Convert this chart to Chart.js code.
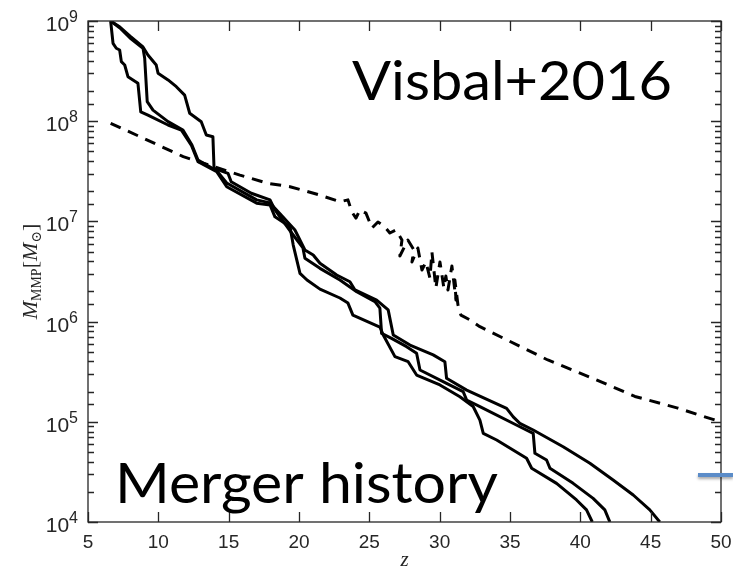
<!DOCTYPE html>
<html>
<head>
<meta charset="utf-8">
<script src="https://cdn.jsdelivr.net/npm/chart.js@4.4.1/dist/chart.umd.min.js"></script>
<style>
  html, body { margin: 0; padding: 0; background: #fff; }
  #wrap { width: 733px; height: 576px; }
</style>
</head>
<body>
<div id="wrap"><canvas id="mmp"></canvas></div>
<script>
// most massive progenitor mass vs redshift, three merger trees
const zTreeA = [6.61, 6.78, 7.01, 7.25, 7.37, 7.61, 7.84, 8.55, 8.75, 9.26, 10.69, 11.63, 12.34, 12.82, 14.15, 14.86, 16.99, 17.94, 18.29, 19.36, 19.59, 20.07, 20.57, 21.49, 22.91, 23.48, 23.83, 25.75, 25.99, 26.82, 27.76, 28.36, 30.02, 31.44, 32.38, 32.86, 33.10, 34.05, 36.18, 36.54, 38.31, 39.73, 40.44, 40.85];
const massTreeA = [1e9, 5.98e8, 5.35e8, 5.14e8, 3.93e8, 3.64e8, 2.78e8, 2.39e8, 1.24e8, 1.15e8, 9.16e7, 8.17e7, 5.78e7, 3.94e7, 3.13e7, 2.22e7, 1.52e7, 1.46e7, 1.11e7, 8.85e6, 5.81e6, 3.03e6, 2.60e6, 2.11e6, 1.72e6, 1.53e6, 1.16e6, 8.83e5, 7.35e5, 4.47e5, 3.98e5, 2.93e5, 2.33e5, 1.78e5, 1.42e5, 1.04e5, 7.67e4, 6.58e4, 4.33e4, 3.44e4, 2.43e4, 1.66e4, 1.32e4, 1.0e4];

const zTreeB = [6.61, 7.27, 7.99, 8.91, 9.03, 9.21, 9.62, 10.69, 11.75, 12.39, 12.82, 14.15, 14.86, 16.99, 17.94, 18.65, 19.71, 20.42, 21.01, 21.49, 22.68, 23.62, 23.98, 25.52, 26.34, 26.70, 27.89, 29.54, 30.37, 30.49, 31.92, 34.76, 35.23, 35.70, 36.65, 38.78, 40.68, 42.33, 43.76, 44.94, 45.65];
const massTreeB = [1e9, 8.51e8, 6.76e8, 5.35e8, 4.25e8, 1.57e8, 1.29e8, 9.89e7, 8.17e7, 5.78e7, 4.10e7, 3.2e7, 2.42e7, 1.64e7, 1.53e7, 1.19e7, 8.20e6, 5.19e6, 4.62e6, 3.82e6, 2.92e6, 2.50e6, 2.07e6, 1.64e6, 1.31e6, 7.35e5, 5.83e5, 4.65e5, 3.98e5, 2.72e5, 2.07e5, 1.36e5, 1.12e5, 9.66e4, 8.28e4, 5.64e4, 3.85e4, 2.62e4, 1.86e4, 1.32e4, 1.0e4];

const zTreeC = [6.61, 7.27, 7.99, 8.91, 9.26, 9.85, 9.98, 10.69, 11.28, 11.87, 12.23, 13.05, 13.41, 13.88, 13.96, 14.95, 15.18, 16.61, 17.94, 18.29, 19.48, 20.28, 20.42, 21.49, 22.91, 24.10, 25.40, 25.75, 25.87, 26.58, 27.65, 28.36, 28.60, 30.49, 31.67, 31.92, 32.86, 35.70, 36.65, 36.77, 37.60, 37.84, 39.49, 40.91, 41.74, 42.10];
const massTreeC = [1e9, 8.71e8, 7.08e8, 5.51e8, 4.58e8, 3.64e8, 3.01e8, 2.58e8, 2.21e8, 1.82e8, 1.20e8, 9.89e7, 7.28e7, 7.00e7, 3.39e7, 3.02e7, 2.49e7, 1.91e7, 1.64e7, 1.30e7, 7.66e6, 5.43e6, 4.29e6, 3.40e6, 2.60e6, 1.99e6, 1.58e6, 1.36e6, 7.64e5, 6.81e5, 5.62e5, 4.83e5, 3.29e5, 2.42e5, 2.00e5, 1.65e5, 1.42e5, 8.93e4, 7.67e4, 4.85e4, 4.16e4, 3.44e4, 2.43e4, 1.72e4, 1.32e4, 1.0e4];

// dashed reference track (noisy stretch around z ~ 23-31)
const zDashed = [6.61, 8.70, 11.77, 15.80, 17.79, 19.36, 21.49, 22.91, 23.48, 23.76, 24.05, 24.33, 24.76, 25.19, 25.61, 26.04, 26.46, 26.89, 27.32, 27.17, 27.74, 28.17, 28.03, 28.45, 28.74, 29.02, 29.31, 29.45, 29.73, 30.02, 30.30, 30.44, 30.59, 30.87, 31.16, 31.08, 31.30, 31.51, 32.15, 32.86, 37.69, 40.82, 43.88, 46.93, 48.85, 50.0];
const massDashed = [9.53e7, 7.00e7, 4.43e7, 2.90e7, 2.40e7, 2.22e7, 1.83e7, 1.57e7, 1.64e7, 1.24e7, 1.08e7, 1.30e7, 1.21e7, 8.59e6, 9.86e6, 9.00e6, 7.66e6, 8.20e6, 6.52e6, 4.52e6, 6.52e6, 5.19e6, 3.94e6, 5.43e6, 3.27e6, 3.94e6, 2.72e6, 4.95e6, 2.16e6, 3.94e6, 2.16e6, 2.85e6, 2.07e6, 3.59e6, 1.64e6, 2.60e6, 1.47e6, 1.16e6, 1.04e6, 8.89e5, 4.14e5, 2.74e5, 1.79e5, 1.37e5, 1.12e5, 1.0e5];

const xTicks = [5, 10, 15, 20, 25, 30, 35, 40, 45, 50];
const yDecades = [1e4, 1e5, 1e6, 1e7, 1e8, 1e9];

const AXIS_COLOR = '#262626';

function pairs(zs, ms) {
    return zs.map((z, i) => ({ x: z, y: ms[i] }));
}

function track(zs, ms, dashed) {
    return {
        data: pairs(zs, ms),
        borderColor: '#000',
        borderWidth: 3,
        borderDash: dashed ? [11, 8] : [],
        borderJoinStyle: 'round',
        pointRadius: 0,
        tension: 0,
        fill: false
    };
}

// draw text squeezed/stretched to a given width
function fitText(ctx, str, left, base, width, size) {
    ctx.font = size + 'px Lato, "Open Sans", sans-serif';
    const w = ctx.measureText(str).width;
    ctx.save();
    ctx.translate(left, base);
    ctx.scale(width / w, 1);
    ctx.textAlign = 'left';
    ctx.textBaseline = 'alphabetic';
    ctx.fillText(str, 0, 0);
    ctx.restore();
}

// box, inward ticks, tick labels, axis titles and the slide text
const framePlugin = {
    id: 'frame',
    afterDatasetsDraw(chart) {
        const { ctx, chartArea: a, scales: { x, y } } = chart;
        ctx.save();
        ctx.strokeStyle = AXIS_COLOR;
        ctx.lineWidth = 1.3;
        ctx.strokeRect(a.left, a.top, a.right - a.left, a.bottom - a.top);

        ctx.beginPath();
        xTicks.forEach(v => {
            const px = Math.round(x.getPixelForValue(v)) + 0.5;
            ctx.moveTo(px, a.bottom); ctx.lineTo(px, a.bottom - 10);
            ctx.moveTo(px, a.top); ctx.lineTo(px, a.top + 10);
        });
        y.ticks.forEach(t => {
            const py = Math.round(y.getPixelForValue(t.value)) + 0.5;
            const major = yDecades.some(d => Math.abs(d - t.value) / d < 1e-6);
            const len = major ? 10 : 6;
            ctx.moveTo(a.left, py); ctx.lineTo(a.left + len, py);
            ctx.moveTo(a.right, py); ctx.lineTo(a.right - len, py);
        });
        ctx.stroke();

        ctx.fillStyle = AXIS_COLOR;
        ctx.font = '19px "Liberation Sans", Arial, sans-serif';
        ctx.textAlign = 'center';
        ctx.textBaseline = 'alphabetic';
        xTicks.forEach(v => ctx.fillText(String(v), x.getPixelForValue(v), a.bottom + 26));

        yDecades.forEach(v => {
            const py = y.getPixelForValue(v);
            const exp = String(Math.round(Math.log10(v)));
            ctx.textAlign = 'right';
            ctx.font = '16px "Liberation Sans", Arial, sans-serif';
            const ew = ctx.measureText(exp).width;
            ctx.fillText(exp, a.left - 10, py + 1);
            ctx.font = '21px "Liberation Sans", Arial, sans-serif';
            ctx.fillText('10', a.left - 10 - ew, py + 10);
        });

        // x title
        ctx.font = 'italic 21px "Liberation Serif", "DejaVu Serif", serif';
        ctx.textAlign = 'center';
        ctx.fillText('z', (a.left + a.right) / 2, 566);

        // y title, rotated
        const parts = [
            { t: 'M', f: 'italic 22px "Liberation Serif", serif', dy: 0 },
            { t: 'MMP', f: '14px "Liberation Serif", serif', dy: 4 },
            { t: '[', f: '22px "Liberation Serif", serif', dy: 0 },
            { t: 'M', f: 'italic 22px "Liberation Serif", serif', dy: 0 },
            { t: '\u2299', f: '14px "DejaVu Serif", serif', dy: 4 },
            { t: ']', f: '22px "Liberation Serif", serif', dy: 0 }
        ];
        let total = 0;
        parts.forEach(p => { ctx.font = p.f; p.w = ctx.measureText(p.t).width; total += p.w; });
        ctx.save();
        ctx.translate(37, (a.top + a.bottom) / 2);
        ctx.rotate(-Math.PI / 2);
        ctx.textAlign = 'left';
        let cx = -total / 2;
        parts.forEach(p => { ctx.font = p.f; ctx.fillText(p.t, cx, p.dy); cx += p.w; });
        ctx.restore();

        // slide annotations
        ctx.fillStyle = '#000';
        fitText(ctx, 'Visbal+2016', 352, 100, 320, 55);
        fitText(ctx, 'Merger history', 115, 503, 383, 56);

        ctx.shadowColor = 'rgba(0,0,0,0.35)';
        ctx.shadowBlur = 3;
        ctx.shadowOffsetY = 2;
        ctx.strokeStyle = '#5b8cc8';
        ctx.lineWidth = 4;
        ctx.beginPath();
        ctx.moveTo(698, 475);
        ctx.lineTo(733, 475);
        ctx.stroke();
        ctx.restore();
    }
};

new Chart(document.getElementById('mmp'), {
    type: 'line',
    data: {
        datasets: [
            track(zTreeA, massTreeA, false),
            track(zTreeB, massTreeB, false),
            track(zTreeC, massTreeC, false),
            track(zDashed, massDashed, true)
        ]
    },
    options: {
        responsive: true,
        maintainAspectRatio: false,
        animation: false,
        layout: { padding: { top: 21, right: 12, left: 0, bottom: 0 } },
        plugins: { legend: { display: false }, tooltip: { enabled: false } },
        scales: {
            x: {
                type: 'linear',
                min: 5,
                max: 50,
                ticks: { display: false, stepSize: 5 },
                grid: { display: false },
                border: { display: false },
                afterFit(scale) { scale.height = 54; }
            },
            y: {
                type: 'logarithmic',
                min: 1e4,
                max: 1e9,
                ticks: { display: false },
                grid: { display: false },
                border: { display: false },
                afterFit(scale) { scale.width = 88; }
            }
        }
    },
    plugins: [framePlugin]
});
</script>
</body>
</html>
